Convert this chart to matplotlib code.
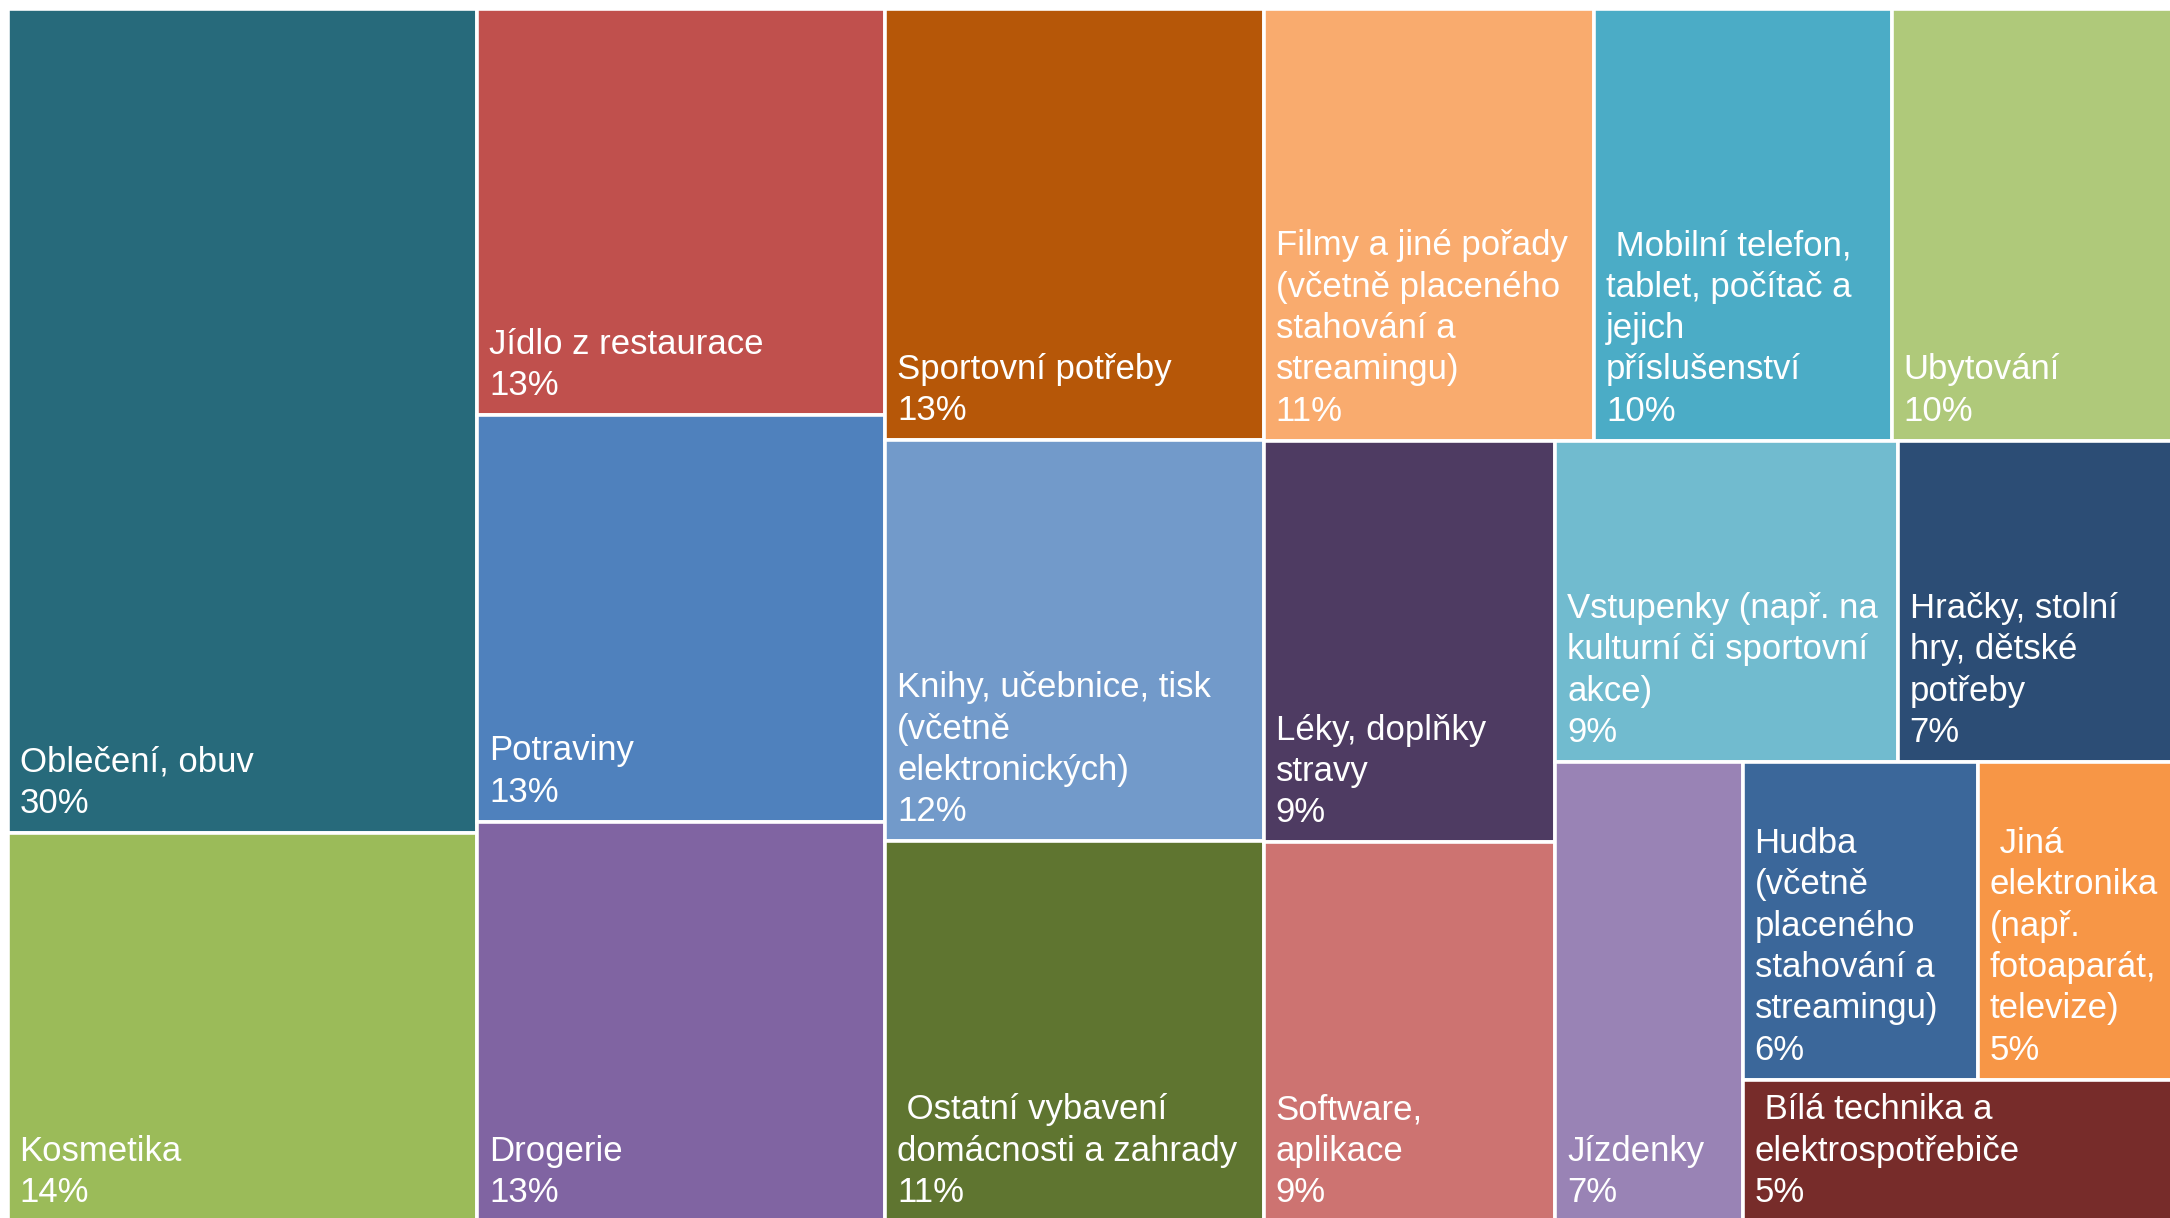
import matplotlib
matplotlib.use("Agg")
import matplotlib.pyplot as plt
from matplotlib.patches import Rectangle

plt.rcParams['font.family'] = ['Liberation Sans', 'DejaVu Sans']

# data (share of respondents, %), already sorted the way Excel draws it
labels = ["Oblečení, obuv",
          "Kosmetika",
          "Jídlo z restaurace",
          "Potraviny",
          "Drogerie",
          "Sportovní potřeby",
          "Knihy, učebnice, tisk\n(včetně\nelektronických)",
          " Ostatní vybavení\ndomácnosti a zahrady",
          "Filmy a jiné pořady\n(včetně placeného\nstahování a\nstreamingu)",
          " Mobilní telefon,\ntablet, počítač a\njejich\npříslušenství",
          "Ubytování",
          "Léky, doplňky\nstravy",
          "Software,\naplikace",
          "Vstupenky (např. na\nkulturní či sportovní\nakce)",
          "Hračky, stolní\nhry, dětské\npotřeby",
          "Jízdenky",
          "Hudba\n(včetně\nplaceného\nstahování a\nstreamingu)",
          " Jiná\nelektronika\n(např.\nfotoaparát,\ntelevize)",
          " Bílá technika a\nelektrospotřebiče"]
values = [30.1, 14.2, 12.9, 12.9, 12.7, 12.7, 11.8, 11.2, 11.1, 10.0, 9.55,
          9.1, 8.6, 8.55, 6.95, 6.7, 5.8, 4.9, 4.8]
colors = ["#276A7B", "#9BBB59", "#C0504D", "#4F81BD", "#8064A2", "#B65708",
          "#729ACA", "#5F7530", "#F9AB6E", "#4BACC6", "#AFC97A", "#4E3B62",
          "#CD7371", "#71BBCF", "#2C4D75", "#9983B5", "#3B679A", "#F79646",
          "#772C2A"]

# how many tiles go into each strip (Excel's split)
strips = [2, 3, 3, 3, 2, 2, 1, 2, 1]


def treemap_rects(vals, strips, x, y, w, h):
    rects = []
    i = 0
    for n in strips:
        group = vals[i:i + n]
        s = sum(group)
        rest = sum(vals[i:])
        if w >= h:
            # vertical strip on the left
            cw = w * s / rest
            top = y + h
            for v in group:
                ch = h * v / s
                rects.append((x, top - ch, cw, ch))
                top -= ch
            x += cw
            w -= cw
        else:
            # horizontal strip on the top
            rh = h * s / rest
            xx = x
            for v in group:
                rw = w * v / s
                rects.append((xx, y + h - rh, rw, rh))
                xx += rw
            h -= rh
        i += n
    return rects


W, H = 2168.5, 1213.5
fig = plt.figure(figsize=(21.7, 12.18), dpi=100)
ax = fig.add_axes([7.5 / 2170, -4 / 1218, W / 2170, H / 1218])
ax.set_xlim(0, W)
ax.set_ylim(0, H)
ax.axis('off')

rects = treemap_rects(values, strips, 0, 0, W, H)
for (rx, ry, rw, rh), lab, v, c in zip(rects, labels, values, colors):
    ax.add_patch(Rectangle((rx, ry), rw, rh, facecolor=c,
                           edgecolor='white', linewidth=2.6))
    ax.annotate(lab + "\n" + str(round(v)) + "%", xy=(rx, ry),
                xytext=(12, 20), textcoords='offset pixels',
                ha='left', va='baseline', color='white', fontsize=25,
                linespacing=1.32)

fig.savefig("out.png", dpi=100)
